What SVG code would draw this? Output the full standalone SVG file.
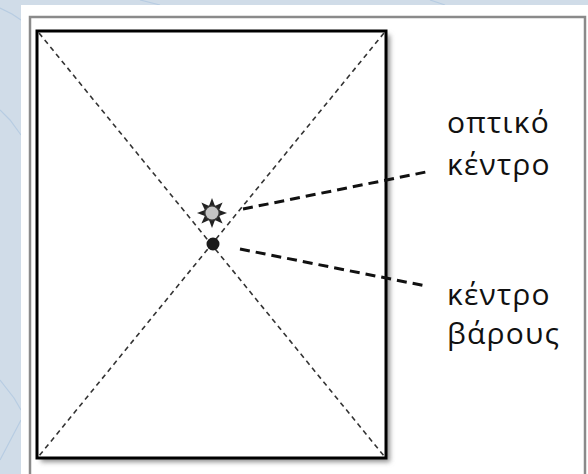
<svg xmlns="http://www.w3.org/2000/svg" width="588" height="474" viewBox="0 0 588 474">
  <defs>
    <filter id="shadow" x="-10%" y="-10%" width="130%" height="130%">
      <feGaussianBlur stdDeviation="2.5"/>
    </filter>
    <style>
      .diag { stroke: #333; stroke-width: 1.6; stroke-dasharray: 5 4; fill: none; }
      .lead { stroke: #111; stroke-width: 3; stroke-dasharray: 10 6; fill: none; }
      .lbl { font-family: "Open Sans", "DejaVu Sans", sans-serif; font-size: 30px; letter-spacing: 1.2px; fill: #111; }
      .bgline { stroke: #b7cce2; stroke-width: 1.2; fill: none; }
    </style>
  </defs>

  <!-- background -->
  <rect x="0" y="0" width="588" height="474" fill="#d0dce8"/>
  <path class="bgline" d="M0 8 L12 14 L21 20"/>
  <path class="bgline" d="M0 110 L10 120 L21 135"/>
  <path class="bgline" d="M0 380 L14 398 L21 410"/>
  <path class="bgline" d="M0 460 L21 420"/>
  <path class="bgline" d="M140 0 L160 5"/>
  <path class="bgline" d="M430 0 L445 5"/>

  <!-- panel -->
  <rect x="21" y="5" width="567" height="469" fill="#ffffff"/>
  <rect x="30" y="17" width="555" height="470" fill="none" stroke="#8a8a8a" stroke-width="2.5"/>

  <g id="frame">
    <rect x="41" y="35" width="349" height="427" fill="#8f8f8f" filter="url(#shadow)"/>
    <rect x="37" y="31" width="349" height="427" fill="#ffffff" stroke="#000" stroke-width="3"/>
  </g>

  <g id="connectors">
    <line class="diag" x1="39" y1="33" x2="384" y2="456"/>
    <line class="diag" x1="384" y1="33" x2="39" y2="456"/>
    <line class="lead" x1="243" y1="209" x2="431" y2="171"/>
    <line class="lead" x1="240" y1="249" x2="426" y2="286"/>
  </g>

  <g id="optical-center">
    <g transform="translate(212,213)" fill="#222">
      <polygon points="0,-15 3,-7 -3,-7"/>
      <polygon points="0,-15 3,-7 -3,-7" transform="rotate(45)"/>
      <polygon points="0,-15 3,-7 -3,-7" transform="rotate(90)"/>
      <polygon points="0,-15 3,-7 -3,-7" transform="rotate(135)"/>
      <polygon points="0,-15 3,-7 -3,-7" transform="rotate(180)"/>
      <polygon points="0,-15 3,-7 -3,-7" transform="rotate(225)"/>
      <polygon points="0,-15 3,-7 -3,-7" transform="rotate(270)"/>
      <polygon points="0,-15 3,-7 -3,-7" transform="rotate(315)"/>
      <circle r="8" fill="#333"/>
      <circle r="6.5" fill="#c4c4c4"/>
    </g>
  </g>

  <g id="center-of-mass">
    <circle cx="213" cy="244" r="6.5" fill="#1a1a1a"/>
  </g>

  <g id="label-optical">
    <text class="lbl" x="447" y="133">οπτικό</text>
    <text class="lbl" x="447" y="175">κέντρο</text>
  </g>
  <g id="label-mass">
    <text class="lbl" x="447" y="305">κέντρο</text>
    <text class="lbl" x="447" y="344">βάρους</text>
  </g>
</svg>
